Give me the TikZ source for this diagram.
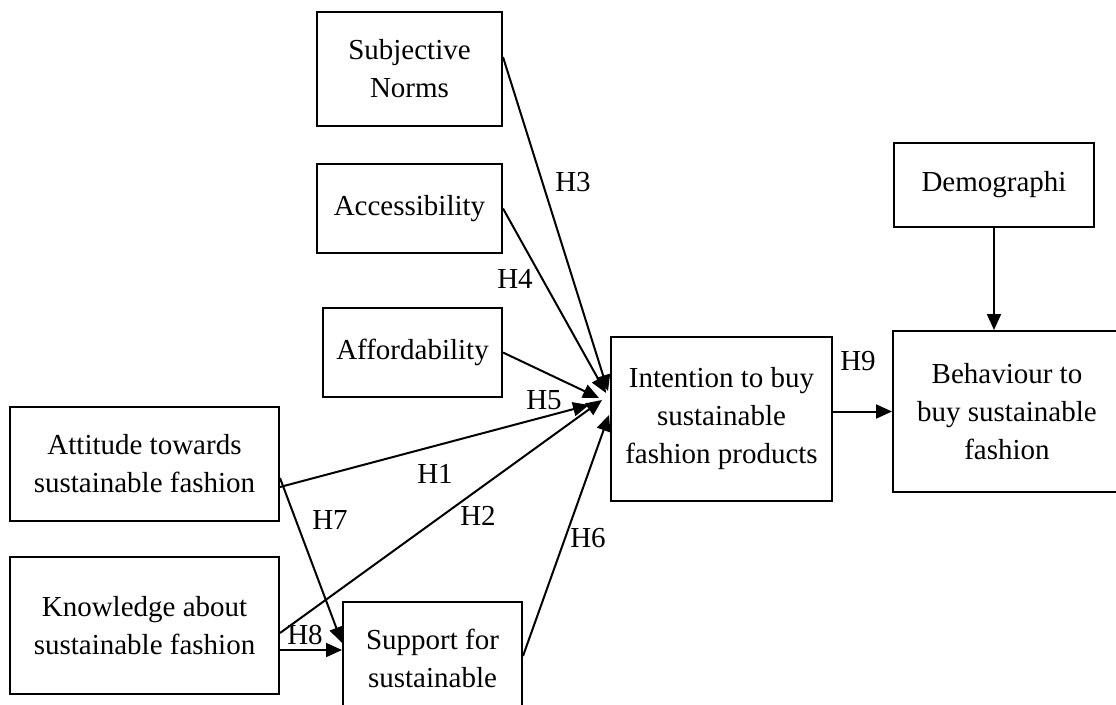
\documentclass[tikz,border=0pt]{standalone}
\usepackage{fontspec}
\setmainfont{Liberation Serif}
\usetikzlibrary{arrows.meta}

\tikzset{
  box/.style={draw, line width=2pt, inner sep=0pt, align=center,
              font=\fontsize{29}{38}\selectfont},
  lbl/.style={inner sep=0pt, font=\fontsize{29}{38}\selectfont},
  link/.style={line width=2pt, -{Triangle[length=16pt,width=14pt]}}
}

\begin{document}
\begin{tikzpicture}[x=1pt, y=-1pt]
\useasboundingbox (0,0) rectangle (1116,704);
\clip (0,0) rectangle (1116,704);

% constructs
\node[box, minimum width=185pt, minimum height=114pt] (sn)  at (409.5,69)    {Subjective\\Norms};
\node[box, minimum width=185pt, minimum height=89pt]  (acc) at (409.5,208.5) {Accessibility};
\node[box, minimum width=179pt, minimum height=89pt]  (aff) at (412.5,352.5) {Affordability};
\node[box, minimum width=269pt, minimum height=114pt] (att) at (144.5,464)   {Attitude towards\\sustainable fashion};
\node[box, minimum width=269pt, minimum height=137pt] (kn)  at (144.5,625.5) {Knowledge about\\sustainable fashion};
\node[box, minimum width=179pt, minimum height=112pt] (sup) at (432.5,658)   {Support for\\sustainable};
\node[box, minimum width=221pt, minimum height=164pt] (int) at (721.5,419)   {Intention to buy\\sustainable\\fashion products};
\node[box, minimum width=200pt, minimum height=84pt]  (dem) at (994,185)     {Demographi};
\node[box, minimum width=228pt, minimum height=161pt] (beh) at (1007,411.5)  {Behaviour to\\buy sustainable\\fashion};

% paths into intention
\draw[link] ([yshift=12pt]sn.east)  -- ([xshift=-2pt,yshift=28pt]int.west);
\draw[link] (acc.east)              -- ([xshift=-4pt,yshift=26pt]int.west);
\draw[link] (aff.east)              -- ([xshift=-11pt,yshift=21pt]int.west);
\draw[link] ([yshift=-23pt]att.east) -- ([xshift=-21pt,yshift=14pt]int.west);
\draw[link] ([yshift=-7.5pt]kn.east) -- ([xshift=-8pt,yshift=19pt]int.west);
\draw[link] ([yshift=2pt]sup.east)  -- ([xshift=-1pt,yshift=4pt]int.west);

% paths into support
\draw[link] ([yshift=-14pt]att.east)  -- ([yshift=15pt]sup.west);
\draw[link] ([yshift=-24.5pt]kn.east) -- ([yshift=8pt]sup.west);

% intention to behaviour, demographics to behaviour
\draw[link] (beh.west -| int.east) -- (beh.west);
\draw[link] (dem.south) -- (dem.south |- beh.north);

% hypothesis labels
\node[lbl] (h3) at (573,182) {H3};
\node[lbl] (h4) at (515,279) {H4};
\node[lbl] (h5) at (544,400) {H5};
\node[lbl] (h1) at (435,474) {H1};
\node[lbl] (h2) at (478,516) {H2};
\node[lbl] (h7) at (330,520) {H7};
\node[lbl] (h8) at (305,635) {H8};
\node[lbl] (h6) at (588,538) {H6};
\node[lbl] (h9) at (858,361) {H9};
\end{tikzpicture}
\end{document}
